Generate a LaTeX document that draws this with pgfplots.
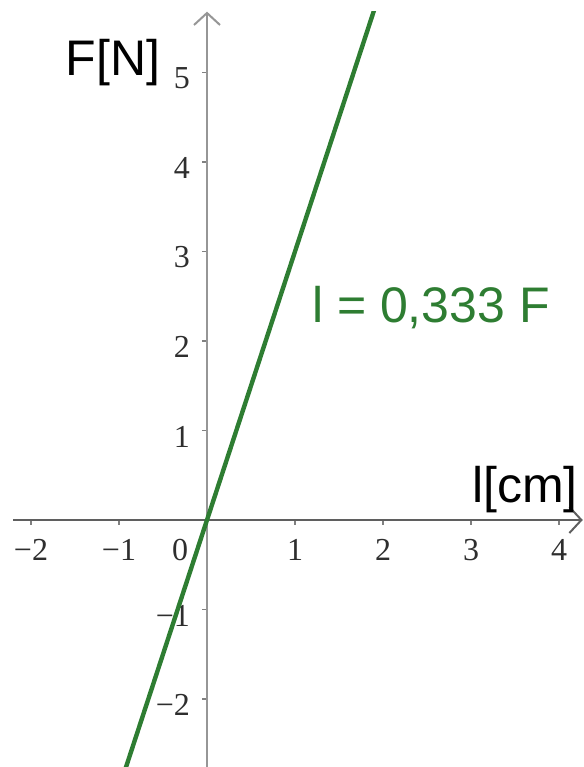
\documentclass[border=0pt]{standalone}
\usepackage{pgfplots}
\pgfplotsset{compat=1.18}
\usepackage{fontspec}
\setmainfont{Liberation Serif}
\newfontfamily\labelfont{Liberation Sans}
\usetikzlibrary{arrows.meta}
\definecolor{linegreen}{RGB}{46,125,50}
\definecolor{xaxisgray}{RGB}{95,95,95}
\definecolor{yaxisgray}{RGB}{150,150,150}

\begin{document}
\begin{tikzpicture}
\begin{axis}[
  x=44bp, y=44.75bp,
  xmin=-2.2, xmax=4.27, ymin=-2.76, ymax=5.68,
  axis lines=middle,
  axis line style={line width=1bp},
  x axis line style={color=xaxisgray, -{Straight Barb[length=6bp,width=13bp]}},
  y axis line style={color=yaxisgray, -{Straight Barb[length=6bp,width=13bp]}},
  xtick={-2,-1,1,2,3,4},
  xticklabels={−2,−1,1,2,3,4},
  ytick={-2,-1,1,2,3,4,5},
  yticklabels={−2,−1,1,2,3,4,5},
  extra x ticks={0},
  extra x tick labels={0},
  extra x tick style={x tick label style={xshift=-13.5bp}},
  hide obscured x ticks=false,
  hide obscured y ticks=false,
  tick align=outside,
  major tick length=2.5bp,
  tick style={color=gray, line width=0.6bp},
  tick label style={font=\fontsize{16bp}{18bp}\selectfont, text=black!82},
  x tick label style={yshift=-3.5bp},
  y tick label style={xshift=-2.5bp, yshift=-3bp},
  clip mode=individual,
]
\addplot[linegreen, line width=2.2bp] coordinates {(-1,-3) (2,6)};
\node[anchor=base west, inner sep=0pt, text=linegreen,
      font=\labelfont\fontsize{25bp}{30bp}\selectfont]
  at (axis cs:1.19,2.21) {l = 0,333 F};
\node[anchor=base west, inner sep=0pt,
      font=\labelfont\fontsize{25bp}{30bp}\selectfont]
  at (axis cs:-1.61,4.97) {F[N]};
\node[anchor=base west, inner sep=0pt,
      font=\labelfont\fontsize{25bp}{30bp}\selectfont]
  at (axis cs:3.01,0.2) {l[cm]};
\coordinate (O) at (axis cs:0,0);
\end{axis}
\pgfresetboundingbox
\path (O) ++(-103.5bp,-123.5bp) rectangle ++(292bp,383.5bp);
\end{tikzpicture}
\end{document}
